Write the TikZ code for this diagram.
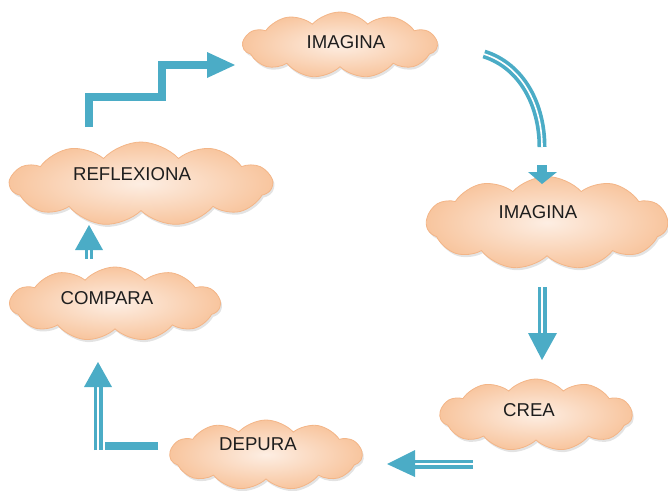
\documentclass[tikz,border=0pt]{standalone}
\usepackage{fontspec}
\setmainfont{Liberation Sans}
\usetikzlibrary{shapes.symbols,shadows}
\definecolor{arrowblue}{HTML}{4BACC6}
\definecolor{cloudin}{HTML}{FDEEE3}
\definecolor{cloudout}{HTML}{F8C59E}
\definecolor{cloudedge}{HTML}{F3B587}
\definecolor{txt}{HTML}{1E1E1E}
\begin{document}
\begin{tikzpicture}[x=1pt,y=-1pt,
  cloudbox/.style={cloud, cloud puffs=11, cloud puff arc=95, aspect=3, draw=cloudedge, line width=0.8pt,
    inner color=cloudin, outer color=cloudout, inner sep=0pt,
    drop shadow={shadow xshift=1.5pt,shadow yshift=-2.5pt,opacity=0.22}},
  cloudtext/.style={text=txt, font=\fontsize{18.6}{21}\selectfont, inner sep=0pt},
  bandline/.style={line width=9pt, draw=arrowblue},
  solidband/.style={line width=8.5pt, draw=arrowblue, line join=miter},
  slit/.style={line width=1.6pt, draw=white},
  headfill/.style={fill=arrowblue}
]
\useasboundingbox (0,0) rectangle (668,490);

% clouds
\node[cloudbox, minimum width=194pt, minimum height=66pt] (c1) at (340,45) {};
\node[cloudbox, minimum width=241pt, minimum height=93pt] (c2) at (547,223) {};
\node[cloudbox, minimum width=192pt, minimum height=72pt] (c3) at (536,415) {};
\node[cloudbox, minimum width=192pt, minimum height=70pt] (c4) at (266,455) {};
\node[cloudbox, minimum width=210pt, minimum height=74pt] (c5) at (115,304) {};
\node[cloudbox, minimum width=262pt, minimum height=84pt] (c6) at (141,184) {};

\node[cloudtext] (t1) at (346,42) {IMAGINA};
\node[cloudtext] (t2) at (538,212) {IMAGINA};
\node[cloudtext] (t3) at (529,410) {CREA};
\node[cloudtext] (t4) at (258,444) {DEPURA};
\node[cloudtext] (t5) at (107,298) {COMPARA};
\node[cloudtext] (t6) at (132,174) {REFLEXIONA};

% arrow 1: step arrow REFLEXIONA -> IMAGINA
\coordinate (a1s) at (89,127);
\coordinate (a1b) at (89,97);
\coordinate (a1c) at (162,97);
\coordinate (a1d) at (162,65);
\coordinate (a1e) at (208,65);
\coordinate (a1t) at (235,65);
\draw[solidband] (a1s) -- (a1b) -- (a1c) -- (a1d) -- (a1e);
\fill[headfill] (207,52) -- (a1t) -- (207,78) -- cycle;

% arrow 2: curved double arrow IMAGINA -> IMAGINA
\coordinate (a2s) at (484,54);
\coordinate (a2e) at (542,147);
\draw[bandline] (a2s) .. controls (522,66) and (542,105) .. (a2e);
\draw[slit] (a2s) .. controls (522,66) and (542,105) .. (a2e);
\coordinate (a2t) at (542,184);
\fill[headfill] (537,165) rectangle (547,173);
\fill[headfill] (528,172) -- (557,172) -- (a2t) -- cycle;

% arrow 3: IMAGINA -> CREA
\coordinate (a3s) at (542,287);
\coordinate (a3e) at (542,334);
\coordinate (a3t) at (542,360);
\draw[bandline] (a3s) -- (a3e);
\draw[slit] (a3s) -- (a3e);
\fill[headfill] (528,333) -- (557,333) -- (a3t) -- cycle;

% arrow 4: CREA -> DEPURA
\coordinate (a4s) at (473,464);
\coordinate (a4e) at (414,464);
\coordinate (a4t) at (387,464);
\draw[bandline] (a4s) -- (a4e);
\draw[slit] (a4s) -- (a4e);
\fill[headfill] (415,450) -- (415,477) -- (a4t) -- cycle;

% arrow 5: DEPURA -> COMPARA
\coordinate (a5h1) at (158,446);
\coordinate (a5h2) at (105,446);
\draw[solidband] (a5h1) -- (a5h2);
\coordinate (a5s) at (98,450);
\coordinate (a5e) at (98,386);
\coordinate (a5t) at (98,362);
\draw[bandline] (a5s) -- (a5e);
\draw[slit] (a5s) -- (a5e);
\fill[headfill] (84,387) -- (112,387) -- (a5t) -- cycle;

% arrow 6: COMPARA -> REFLEXIONA
\coordinate (a6s) at (89,259);
\coordinate (a6e) at (89,249);
\coordinate (a6t) at (89,225);
\draw[bandline, line width=8pt] (a6s) -- (a6e);
\draw[slit, line width=1.4pt] (a6s) -- (a6e);
\fill[headfill] (75,250) -- (103,250) -- (a6t) -- cycle;
\end{tikzpicture}
\end{document}
